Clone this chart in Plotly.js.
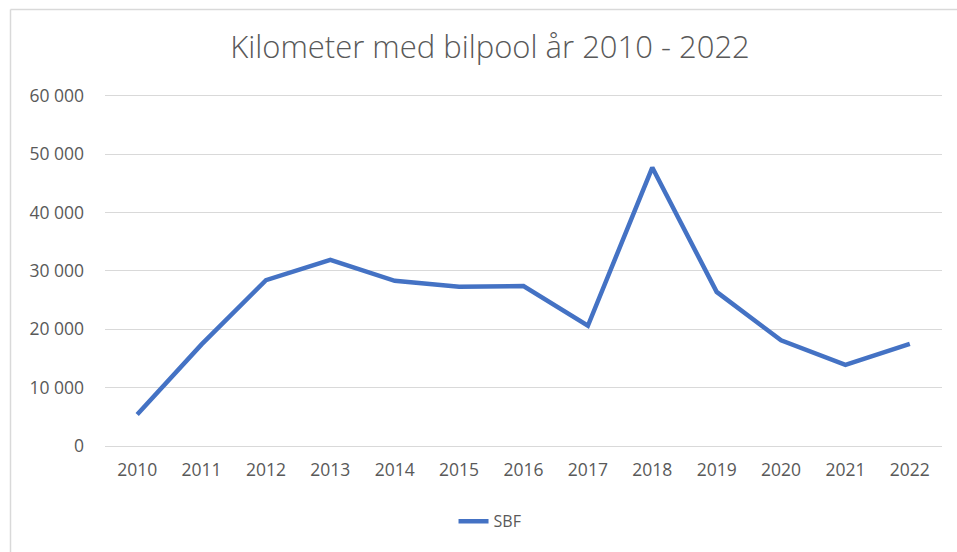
<!DOCTYPE html>
<html>
<head>
<meta charset="utf-8">
<script src="https://cdn.plot.ly/plotly-3.0.1.min.js"></script>
<style>
html,body{margin:0;padding:0;background:#fff;}
#chart{width:957px;height:552px;}
</style>
</head>
<body>
<div id="chart"></div>
<script>
const years = ['2010','2011','2012','2013','2014','2015','2016','2017','2018','2019','2020','2021','2022'];
const sbf = [5400, 17400, 28400, 31900, 28300, 27300, 27400, 20600, 47700, 26400, 18100, 13900, 17500];
const yTickVals = [0, 10000, 20000, 30000, 40000, 50000, 60000];
const yTickLabels = ['0', '10 000', '20 000', '30 000', '40 000', '50 000', '60 000'];
const seriesName = 'SBF';
const chartTitle = 'Kilometer med bilpool år 2010 - 2022';

const grey = '#595959';
const gridGrey = '#d9d9d9';

const trace = {
  type: 'scatter',
  mode: 'lines',
  x: years,
  y: sbf,
  name: seriesName,
  line: {color: '#4472C4', width: 4.5, shape: 'linear'},
  hoverinfo: 'x+y'
};

const layout = {
  width: 957,
  height: 552,
  margin: {l: 105, r: 15, t: 94, b: 106},
  paper_bgcolor: '#ffffff',
  plot_bgcolor: '#ffffff',
  font: {family: '"Open Sans", "DejaVu Sans", sans-serif', color: grey},
  title: {
    text: chartTitle,
    font: {family: '"Open Sans", sans-serif', size: 31, color: grey, weight: 300},
    x: 490 / 957,
    xanchor: 'center',
    y: 1 - 47 / 552,
    yanchor: 'middle'
  },
  xaxis: {
    type: 'category',
    range: [-0.5, 12.5],
    showgrid: false,
    zeroline: false,
    showline: true,
    linecolor: gridGrey,
    linewidth: 1,
    ticks: '',
    ticklabelstandoff: 8,
    tickfont: {size: 17.5, color: grey},
    fixedrange: true
  },
  yaxis: {
    range: [0, 60300],
    tickvals: yTickVals,
    ticktext: yTickLabels,
    showgrid: true,
    gridcolor: gridGrey,
    gridwidth: 1,
    zeroline: false,
    showline: false,
    ticks: '',
    ticklabelstandoff: 20,
    tickfont: {size: 17.5, color: grey},
    fixedrange: true
  },
  showlegend: true,
  legend: {
    orientation: 'h',
    x: 0.46,
    xanchor: 'center',
    y: -0.214,
    yanchor: 'middle',
    font: {size: 16, color: grey},
    itemwidth: 30
  },
  shapes: [
    {type: 'line', xref: 'paper', yref: 'paper', x0: -0.1129, x1: -0.1129, y0: 1.24, y1: -0.4, line: {color: gridGrey, width: 1.5}},
    {type: 'line', xref: 'paper', yref: 'paper', x0: -0.1129, x1: 1.05, y0: 1.24, y1: 1.24, line: {color: gridGrey, width: 1.5}}
  ]
};

Plotly.newPlot('chart', [trace], layout, {displayModeBar: false, staticPlot: true});
</script>
</body>
</html>
